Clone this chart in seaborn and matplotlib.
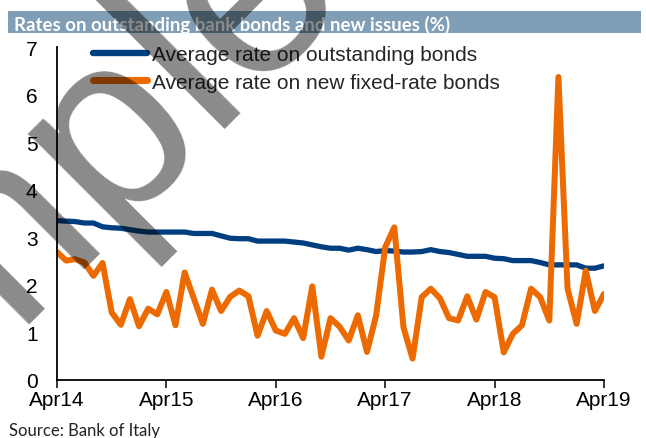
import numpy as np
import pandas as pd
import matplotlib
matplotlib.use("Agg")
import matplotlib.pyplot as plt
import seaborn as sns
from matplotlib.patches import Rectangle
from matplotlib.lines import Line2D

# ---------------- data ----------------
month_index = list(range(61))  # Apr 2014 .. Apr 2019, monthly
outstanding = [3.35, 3.34, 3.33, 3.30, 3.30, 3.22, 3.20, 3.19, 3.16, 3.13,
               3.11, 3.11, 3.11, 3.11, 3.11, 3.08, 3.08, 3.08, 3.03, 2.98,
               2.97, 2.97, 2.92, 2.92, 2.92, 2.92, 2.90, 2.88, 2.84, 2.80,
               2.77, 2.77, 2.73, 2.77, 2.74, 2.70, 2.72, 2.71, 2.69, 2.69,
               2.70, 2.74, 2.70, 2.68, 2.64, 2.60, 2.60, 2.60, 2.56, 2.55,
               2.51, 2.51, 2.51, 2.47, 2.42, 2.42, 2.42, 2.42, 2.35, 2.35,
               2.40]
new_fixed = [2.69, 2.51, 2.54, 2.47, 2.19, 2.46, 1.42, 1.16, 1.70, 1.13,
             1.50, 1.38, 1.85, 1.15, 2.26, 1.72, 1.18, 1.90, 1.45, 1.75,
             1.88, 1.76, 0.93, 1.45, 1.04, 0.97, 1.30, 0.88, 1.97, 0.49,
             1.30, 1.12, 0.83, 1.36, 0.59, 1.35, 2.79, 3.21, 1.11, 0.45,
             1.74, 1.92, 1.72, 1.30, 1.25, 1.76, 1.27, 1.85, 1.74, 0.58,
             0.97, 1.15, 1.92, 1.74, 1.25, 6.37, 1.92, 1.18, 2.30, 1.45,
             1.81]
series_names = ["Average rate on outstanding bonds",
                "Average rate on new fixed-rate bonds"]
series_colors = ["#003f7f", "#ec6a00"]
x_tick_pos = [0, 12, 24, 36, 48, 60]
x_tick_labels = ["Apr14", "Apr15", "Apr16", "Apr17", "Apr18", "Apr19"]
y_ticks = [0, 1, 2, 3, 4, 5, 6, 7]
title_text = "Rates on outstanding bank bonds and new issues (%)"
source_text = "Source: Bank of Italy"
watermark_text = "Sample"

df = pd.DataFrame({
    "month": month_index * 2,
    "rate": outstanding + new_fixed,
    "series": [series_names[0]] * len(outstanding) + [series_names[1]] * len(new_fixed),
})

# ---------------- style ----------------
sns.set_theme(style="white")
plt.rcParams["font.family"] = ["Liberation Sans", "DejaVu Sans"]

W, H = 646, 439
fig = plt.figure(figsize=(W / 100, H / 100), dpi=100)
fig.patch.set_facecolor("white")

ax_l, ax_r, ax_b, ax_t = 57, 604, 381, 48
ax = fig.add_axes([ax_l / W, 1 - ax_b / H, (ax_r - ax_l) / W, (ax_b - ax_t) / H])
ax.set_facecolor("white")

widths = [3.8, 4.3]
for name, col, lw in zip(series_names, series_colors, widths):
    sns.lineplot(data=df[df["series"] == name], x="month", y="rate",
                 color=col, linewidth=lw, ax=ax, legend=False)

ax.set_xlim(0, 60)
ax.set_ylim(0, 7)
ax.set_xticks(x_tick_pos)
ax.set_xticklabels(x_tick_labels)
ax.set_yticks(y_ticks)
ax.set_yticklabels([str(v) for v in y_ticks])
ax.set_xlabel("")
ax.set_ylabel("")

for s in ["top", "right"]:
    ax.spines[s].set_visible(False)
for s in ["left", "bottom"]:
    ax.spines[s].set_color("black")
    ax.spines[s].set_linewidth(1.3)

ax.tick_params(axis="x", direction="out", length=6, width=1.1, color="black",
               labelsize=15, pad=1, labelcolor="black", bottom=True)
ax.tick_params(axis="y", length=0, labelsize=15, pad=14, labelcolor="black", left=True)

handles = [Line2D([0], [0], color=c, linewidth=lw + 0.8, solid_capstyle="round")
           for c, lw in zip(series_colors, widths)]
ax.legend(handles, series_names, loc="upper left",
          bbox_to_anchor=(93 / W, 1 - 46 / H), bbox_transform=fig.transFigure,
          frameon=False, borderpad=0, borderaxespad=0, handlelength=2.6,
          handletextpad=0.25, labelspacing=0.42, fontsize=15)

# title bar
fig.add_artist(Rectangle((8 / W, 1 - 34 / H), (641 - 8) / W, 22.5 / H,
                         transform=fig.transFigure, facecolor="#809eb6",
                         edgecolor="none", zorder=1))
fig.text(14 / W, 1 - 30.5 / H, title_text, color="white", fontsize=13.4,
         fontweight="bold", family=["Lato", "DejaVu Sans"], ha="left",
         va="baseline", zorder=5)

fig.text(9 / W, 1 - 436 / H, source_text, color="#222222", fontsize=12,
         family=["Lato", "DejaVu Sans"], ha="left", va="baseline")

# watermark
fig.text(44 / W, 1 - 298 / H, watermark_text, rotation=45, rotation_mode="anchor",
         ha="center", va="baseline", fontsize=184, color="black", alpha=0.46,
         family=["Liberation Sans", "DejaVu Sans"], zorder=100)

fig.savefig("out.png", dpi=100)
